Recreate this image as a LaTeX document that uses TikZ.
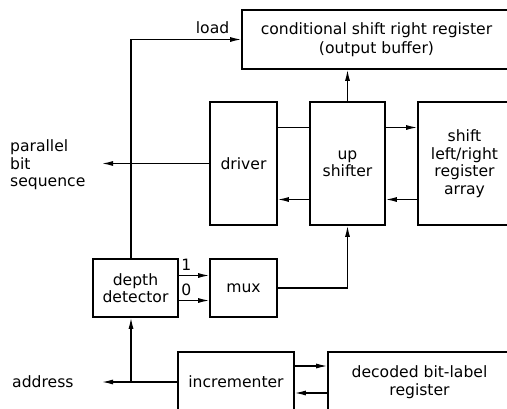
\documentclass[tikz,border=0pt]{standalone}
\usepackage{fontspec}
\setmainfont{DejaVu Sans}
\usetikzlibrary{arrows.meta, positioning, calc}
\tikzset{
	unit/.style={rectangle, draw=black, line width=1.6pt, align=center, inner sep=0pt},
	wire/.style={line width=1.2pt},
	link/.style={-{Latex[length=11pt, width=5pt]}, line width=1.2pt},
	tag/.style={inner sep=0pt, align=left},
}

\begin{document}
\begin{tikzpicture}[x=1pt, y=-1pt, font=\fontsize{15.6}{17.5}\selectfont]
	\useasboundingbox (0,0) rectangle (507,408);
	\clip (0,0) rectangle (507,408);
	% blocks
	\node[unit, minimum width=269pt, minimum height=59pt] (obuf) at (376.5,39.5) {conditional shift right register\\[2pt](output buffer)};
	\node[unit, minimum width=67pt, minimum height=123pt] (driver) at (243.5,163.5) {driver};
	\node[unit, minimum width=75pt, minimum height=123pt] (upsh) at (347.5,163.5) {up\\shifter};
	\node[unit, minimum width=93pt, minimum height=123pt] (array) at (464.5,163.5) {shift\\left/right\\register\\array};
	\node[unit, minimum width=85pt, minimum height=58pt] (depth) at (135.5,288) {depth\\detector};
	\node[unit, minimum width=67pt, minimum height=58pt] (mux) at (243.5,288) {mux};
	\node[unit, minimum width=116pt, minimum height=60pt] (inc) at (236,382) {incrementer};
	\node[unit, minimum width=183pt, minimum height=60pt] (dreg) at (419.5,382) {decoded bit-label\\register};
	% free ends and outside labels
	\node[tag, anchor=west] (par) at (10,165) {parallel\\bit\\sequence};
	\node[tag, anchor=west] (addr) at (12,382) {address};
	\coordinate (parend) at (102,163.5);
	\coordinate (addrend) at (102,382);
	\coordinate (tap) at (131,382);
	% connections
	\draw[link] ([xshift=-4.5pt]depth.north) |- (obuf.west) node[pos=0.87, above=2pt] {load};
	\draw[link] (driver.west) -- (parend);
	\draw[link] (upsh.north) -- (upsh.north |- obuf.south);
	\draw[wire] ([yshift=36pt]driver.east) -- ([yshift=36pt]upsh.west);
	\draw[link] ([yshift=-36pt]upsh.west) -- ([yshift=-36pt]driver.east);
	\draw[link] ([yshift=36pt]upsh.east) -- ([yshift=36pt]array.west);
	\draw[link] ([yshift=-36pt]array.west) -- ([yshift=-36pt]upsh.east);
	\draw[link] ([yshift=12.5pt]depth.east) -- ([yshift=12.5pt]mux.west) node[pos=0.25, above=1pt] {1};
	\draw[link] ([yshift=-12.5pt]depth.east) -- ([yshift=-12.5pt]mux.west) node[pos=0.25, above=1pt] {0};
	\draw[link] (mux.east) -| (upsh.south);
	\draw[link] ([yshift=16pt]inc.east) -- ([yshift=16pt]dreg.west);
	\draw[link] ([yshift=-11pt]dreg.west) -- ([yshift=-11pt]inc.east);
	\draw[link] (inc.west) -- (addrend);
	\draw[link] (tap) -- ([xshift=-4.5pt]depth.south);
\end{tikzpicture}
\end{document}
